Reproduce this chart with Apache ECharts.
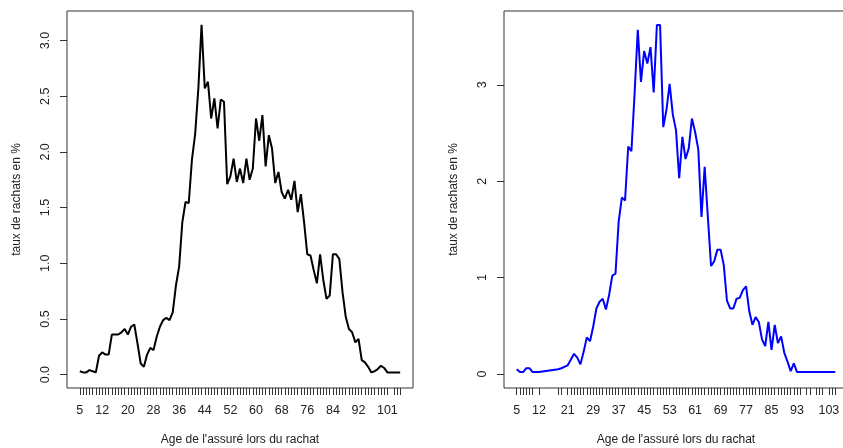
<!DOCTYPE html>
<html>
<head>
<meta charset="utf-8">
<script src="https://cdn.jsdelivr.net/npm/echarts@6/dist/echarts.min.js"></script>
<style>
html,body{margin:0;padding:0;background:#fff;}
#chart{width:843px;height:448px;}
</style>
</head>
<body>
<div id="chart"></div>
<script>
// ---- data ----
const leftAges = [5,6,7,8,9,10,11,12,13,14,15,16,17,18,19,20,21,22,23,24,25,26,27,28,29,30,
  31,32,33,34,35,36,37,38,39,40,41,42,43,44,45,46,47,48,49,50,51,52,53,54,55,56,57,58,59,60,
  61,62,63,64,65,66,67,68,69,70,71,72,73,74,75,76,77,78,79,80,81,82,83,84,85,86,87,88,89,90,
  91,92,93,94,95,96,97,98,99,100,101,103,104,105];
const leftRates = [0.03,0.02,0.02,0.04,0.03,0.02,0.17,0.20,0.18,0.18,0.36,0.36,0.36,0.38,0.41,0.36,
  0.43,0.45,0.28,0.10,0.07,0.18,0.24,0.22,0.34,0.43,0.49,0.51,0.49,0.56,0.80,0.97,1.37,1.55,1.54,
  1.93,2.16,2.57,3.14,2.57,2.63,2.30,2.48,2.21,2.47,2.45,1.71,1.78,1.94,1.73,1.85,1.72,1.94,1.75,
  1.85,2.30,2.10,2.33,1.87,2.15,2.03,1.72,1.82,1.64,1.58,1.66,1.57,1.74,1.46,1.62,1.37,1.08,1.07,
  0.94,0.82,1.08,0.85,0.68,0.71,1.08,1.08,1.04,0.74,0.52,0.41,0.38,0.29,0.32,0.13,0.11,0.07,0.02,
  0.03,0.05,0.08,0.06,0.02,0.02,0.02,0.02];
const leftXLabels = [5,12,20,28,36,44,52,60,68,76,84,92,101];
const leftYLabels = [0,0.5,1,1.5,2,2.5,3];

const rightAges = [5,6,7,8,9,10,12,18,19,21,22,23,24,25,26,27,28,29,30,31,32,33,34,35,36,37,38,
  39,40,41,42,43,44,45,46,47,48,49,50,51,52,53,54,55,56,57,58,59,60,61,62,63,64,65,66,67,68,69,
  70,71,72,73,74,75,76,77,78,79,80,81,82,83,84,85,86,87,88,89,90,91,92,93,94,96,97,99,100,101,
  103,104,105];
const rightRates = [0.05,0.02,0.02,0.06,0.06,0.02,0.02,0.05,0.06,0.09,0.15,0.21,0.17,0.10,0.23,
  0.38,0.34,0.49,0.68,0.75,0.78,0.67,0.82,1.02,1.04,1.58,1.83,1.80,2.36,2.31,2.91,3.57,3.03,3.35,
  3.22,3.39,2.92,3.62,3.62,2.56,2.74,3.01,2.69,2.53,2.03,2.46,2.23,2.34,2.65,2.51,2.33,1.63,2.15,
  1.63,1.12,1.17,1.29,1.29,1.13,0.76,0.68,0.68,0.78,0.79,0.87,0.91,0.65,0.51,0.59,0.54,0.36,0.29,
  0.54,0.25,0.51,0.32,0.39,0.22,0.13,0.03,0.11,0.02,0.02,0.02,0.02,0.02,0.02,0.02,0.02,0.02,0.02];
const rightXLabels = [5,12,21,29,37,45,53,61,69,77,85,93,103];
const rightYLabels = [0,1,2,3];

const xTitle = "Age de l'assuré lors du rachat";
const yTitle = "taux de rachats en %";

// ---- chart ----
const FONT = 'Liberation Sans, Arial, sans-serif';
const TXT = '#222';
const AX = '#333';

function zip(a, b){ return a.map((v,i)=>[v,b[i]]); }

function xAxisCfg(gridIndex, ages, labels){
  return {
    type:'value', gridIndex, min:1, max:109, position:'bottom',
    axisLine:{show:false, onZero:false},
    splitLine:{show:false},
    axisTick:{show:true, inside:false, length:7, customValues:ages, lineStyle:{color:AX,width:1}},
    axisLabel:{customValues:labels, margin:16, color:TXT, fontFamily:FONT, fontSize:12.5},
    name:xTitle, nameLocation:'middle', nameGap:46,
    nameTextStyle:{color:TXT, fontFamily:FONT, fontSize:12}
  };
}
function yAxisCfg(gridIndex, min, max, labels, fmt){
  return {
    type:'value', gridIndex, min, max, position:'left',
    axisLine:{show:false, onZero:false},
    splitLine:{show:false},
    axisTick:{show:true, inside:false, length:7, customValues:labels, lineStyle:{color:AX,width:1}},
    axisLabel:{customValues:labels, rotate:90, margin:15, color:TXT, fontFamily:FONT, fontSize:12.5,
      formatter:fmt},
    name:yTitle, nameLocation:'middle', nameGap:44, nameRotate:90,
    nameTextStyle:{color:TXT, fontFamily:FONT, fontSize:12}
  };
}

const chart = echarts.init(document.getElementById('chart'), null, {renderer:'canvas'});
chart.setOption({
  animation:false,
  backgroundColor:'#fff',
  grid:[
    {left:67, top:11, width:346, height:377, outerBoundsMode:'none', containLabel:false,
      show:true, borderColor:AX, borderWidth:1, backgroundColor:'transparent'},
    {left:504, top:11, width:344, height:377, outerBoundsMode:'none', containLabel:false,
      show:true, borderColor:AX, borderWidth:1, backgroundColor:'transparent'}
  ],
  xAxis:[ xAxisCfg(0, leftAges, leftXLabels), xAxisCfg(1, rightAges, rightXLabels) ],
  yAxis:[
    yAxisCfg(0, -0.12, 3.265, leftYLabels, v => Number(v).toFixed(1)),
    yAxisCfg(1, -0.145, 3.765, rightYLabels, v => String(Math.round(v)))
  ],
  series:[
    {type:'line', xAxisIndex:0, yAxisIndex:0, data:zip(leftAges,leftRates), showSymbol:false,
      lineStyle:{color:'#000', width:2}, itemStyle:{color:'#000'}},
    {type:'line', xAxisIndex:1, yAxisIndex:1, data:zip(rightAges,rightRates), showSymbol:false,
      lineStyle:{color:'#0000ff', width:2}, itemStyle:{color:'#0000ff'}}
  ]
});
</script>
</body>
</html>
